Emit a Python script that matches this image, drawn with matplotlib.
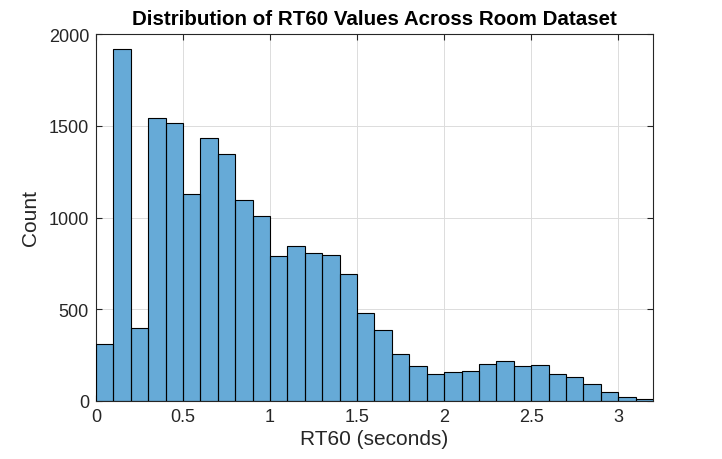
import numpy as np
import matplotlib
matplotlib.use("Agg")
import matplotlib.pyplot as plt

plt.rcParams['font.family'] = ['Liberation Sans', 'DejaVu Sans']

# histogram bins (seconds) and counts per bin
bin_edges = np.round(np.arange(0, 3.21, 0.1), 2)
counts = [310, 1920, 400, 1540, 1513, 1128, 1433, 1344, 1093, 1006,
          788, 843, 805, 794, 690, 478, 385, 256, 189, 145,
          158, 162, 200, 216, 189, 194, 145, 129, 91, 47,
          20, 11]

xticks = [0, 0.5, 1, 1.5, 2, 2.5, 3]
xticklabels = ['0', '0.5', '1', '1.5', '2', '2.5', '3']
yticks = [0, 500, 1000, 1500, 2000]

fig = plt.figure(figsize=(7.22, 4.6), dpi=100)
ax = fig.add_axes([96/722, 58/460, 557/722, 367/460])

ax.stairs(counts, bin_edges, fill=True, color=(0.4, 0.668, 0.845), zorder=2)
ax.bar(bin_edges[:-1], counts, width=0.1, align='edge', fill=False,
       edgecolor='black', linewidth=0.8, zorder=3)

ax.set_xlim(0, 3.2)
ax.set_ylim(0, 2000)
ax.set_xticks(xticks)
ax.set_xticklabels(xticklabels)
ax.set_yticks(yticks)
ax.grid(True, color='#dcdcdc', linewidth=0.7, zorder=0)
ax.set_axisbelow(True)
ax.tick_params(direction='in', top=True, right=True, length=4,
               labelsize=13, colors='#262626', pad=5)
for s in ax.spines.values():
    s.set_color('#262626')
    s.set_linewidth(0.8)

ax.set_title('Distribution of RT60 Values Across Room Dataset',
             fontsize=14.8, fontweight='bold', pad=7)
ax.set_xlabel('RT60 (seconds)', fontsize=15, color='#262626', labelpad=3)
ax.set_ylabel('Count', fontsize=15, color='#262626', labelpad=6)

fig.savefig('out.png', dpi=100)
